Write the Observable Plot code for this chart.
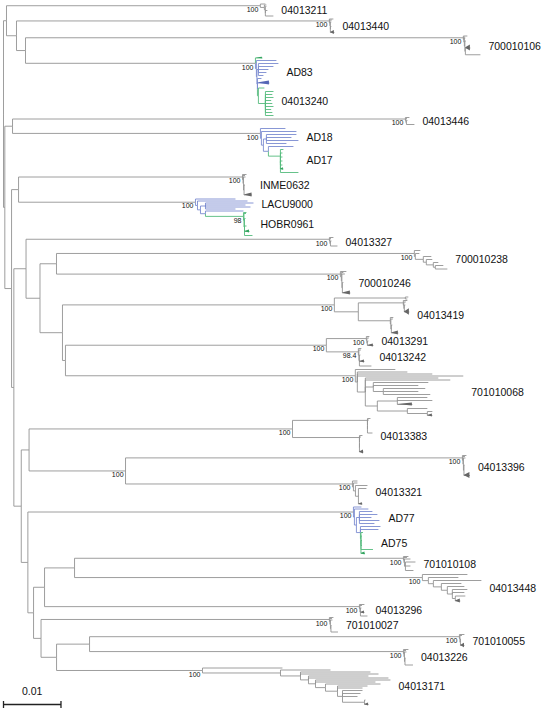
<!DOCTYPE html>
<html><head><meta charset="utf-8">
<script src="https://cdn.jsdelivr.net/npm/d3@7"></script>
<script src="https://cdn.jsdelivr.net/npm/@observablehq/plot@0.6"></script>
<style>body{margin:0;background:#fff}#chart svg{display:block}</style>
</head><body><div id="chart"></div>
<script>
// ---- DATA ----
// backbone edges: [node, parent, branch length (subs/site)]
const backbone = [
["R",null,0],
["N1","R",0.00052],["C1","N1",0.04417],["N2","N1",0.00174],["C2","N2",0.05443],
["N3","N2",0.00157],["C3","N3",0.07617],["C4","N3",0.04],
["Nb","R",0.00023],["N4","Nb",0.00134],["C5","N4",0.06835],["C6","N4",0.04313],
["Nd","Nb",0.00117],["N5","Nd",0.00122],["C7","N5",0.03896],["C8","N5",0.03078],
["Nf","Nd",0.0004],["N6","Nf",0.00212],["C9","N6",0.05278],["N7","N6",0.00243],
["N8","N7",0.00287],["C10","N8",0.06226],["C11","N8",0.04939],
["N9","N7",0.00391],["C12","N9",0.0473],["N10","N9",0.00052],["C13","N10",0.04539],["C14","N10",0.05043],
["NC","Nf",0.00129],["ND","NC",0.00136],["C15","ND",0.04583],["N11","ND",0.01678],
["C16","N11",0.05861],["C17","N11",0.03948],
["NE","NC",0.00115],["C18","NE",0.05664],["NF","NE",0.00099],["NG","NF",0.00191],
["NI","NG",0.00522],["C19","NI",0.05722],["C20","NI",0.06052],["C21","NG",0.05478],
["NH","NF",0.0013],["C22","NH",0.05017],["NJ","NH",0.0027],["NK","NJ",0.00574],
["C23","NK",0.06435],["C24","NK",0.05461],["C25","NJ",0.02539]
];
// clade edges: [node, parent, branch length, sequences (rows) for tips]
const cladeNodes = [
["1a","C1",0.00087,1],["1k1","C1",0.0007],["1b","1k1",0.00035,1],["1k2","1k1",0.00017],["1c","1k2",0.00017,2],["1k3","1k2",0],["1d","1k3",0.00035,6],["1e","1k3",0.00139,5],
["2a","C2",0.0007,1],["2k1","C2",0.00009],["2b","2k1",0.00035,1],["2k2","2k1",0.00009],["2c","2k2",0.00017,3],["2k3","2k2",0],["2d","2k3",0.00017,6],["2e","2k3",0.0007,6],
["3a","C3",0.0007,1],["3k1","C3",0.00009],["3b","3k1",0.00017,1],["3k2","3k1",0.00009],["3c","3k2",0.00017,1],["3k3","3k2",0.00009],["3d","3k3",0.00017,5],["3k4","3k3",0.00009],["3e","3k4",0.00087,9],["3f","3k4",0.00261,4.5],
["4gt","C4",0.00122,2],["4L1","C4",0.00017],["4b1","4L1",0.00348,3],["4L4","4L1",0.00009],["4F","4L4",0.00026],
["4f1","4F",0.00348,3],["4f2","4F",0.00261,3],["4f3","4F",0.00174,3],["4f4","4F",0.00139,3],["4f5","4F",0.00087,3],
["4L5","4L4",0.00009],["4b6","4L5",0.0007,3],["4L6","4L5",0],["4bb","4L6",0.00209,6],["4G","4L6",0.00017],["4gb","4G",0.00104,4],["4G2","4G",0.00122],
["4g1","4G2",0.0014,3],["4g2","4G2",0.0012,3],["4g3","4G2",0.0014,3],["4g4","4G2",0.001,3],["4g5","4G2",0.0012,3],["4g6","4G2",0.0014,3],["4g7","4G2",0.001,3],["4g8","4G2",0.0012,3],["4g9","4G2",0.0014,3],
["5a","C5",0.0007,1],["5k1","C5",0.00009],["5b","5k1",0.00017,1],["5k2","5k1",0.00009],["5c","5k2",0.00017,3],["5d","5k2",0.00139,5],
["6b1","C6",0.00435,3],["6K1","C6",0.00017],["6b2","6K1",0.00609,3],["6K2","6K1",0.00035],["6F","6K2",0.00052],
["6f1","6F",0.00522,3],["6f2","6F",0.00435,3],["6f3","6F",0.00557,3],["6f4","6F",0.00348,3],
["6K3","6K2",0.00087],["6f5","6K3",0.00435,3],["6G","6K3",0.00209],["6g1","6G",0.00052,3],["6G2","6G",0],
["6g2","6G2",0.00035,4],["6g3","6G2",0.00035,4],["6g4","6G2",0.00035,4],["6g5","6G2",0.00035,4],["6gb","6G2",0.00052,4],["6g6","6G2",0.00313,3],
["7a","C7",0.0007,1],["7k1","C7",0.00009],["7b","7k1",0.00035,1],["7k2","7k1",0.00009],["7c","7k2",0.00035,2],["7k3","7k2",0.00009],["7d","7k3",0.00017,14],["7e","7k3",0.00139,6],
["8b1","C8",0.00696,2],["8K1","C8",0.00035],["8b2","8K1",0.0087,2],["8K2","8K1",0.00052],["8F","8K2",0.00087],
["8f1","8F",0.00835,2],["8f2","8F",0.00696,2],["8f3","8F",0.00783,2],["8f4","8F",0.00522,2],
["8K3","8K2",0.00087],["8f5","8K3",0.00661,2],["8G","8K3",0.00661],["8g1","8G",0.00052,1],["8G2","8G",0.00009],["8g2","8G2",0.00035,1],["8G3","8G2",0.00009],
["8g3","8G3",0.00017,9],["8g4","8G3",0.00035,6],["8gb","8G3",0.00087,5],["8g5","8G3",0.00139,3],
["9a","C9",0.0007,1],["9k1","C9",0.00009],["9b","9k1",0.00017,1],["9k2","9k1",0.00009],["9c","9k2",0.00017,4],["9d","9k2",0.00122,6],
["10a","C10",0.00104,3],["10k2","C10",0.00017],["10b","10k2",0.0007,3],["10S1","10k2",0.00139],["10s1","10S1",0.00139,3],["10S2","10S1",0.00052],["10s2","10S2",0.00104,3],
["10S3","10S2",0.00122],["10s3","10S3",0.00087,3],["10S4","10S3",0.00035],["10s4","10S4",0.00139,3],["10s5","10S4",0.00209,4],
["11a","C11",0.00104,1],["11k1","C11",0.00017],["11b","11k1",0.00035,1],["11k2","11k1",0.00009],["11c","11k2",0.00052,2],["11k3","11k2",0.00009],["11d","11k3",0.00017,15],["11e","11k3",0.00139,6],
["12A","C12",0.01235],["12a1","12A",0.00052,2],["12a2","12A",0.00035,2],["12B","C12",0.00417],["12C","12B",0.00783],
["12c1","12C",0.0007,1],["12C2","12C",0.00009],["12c2","12C2",0.00035,2],["12C3","12C2",0.00009],["12c3","12C3",0.00017,4],["12cb","12C3",0.00087,10],
["12D","12B",0.00557],["12d1","12D",0.00052,1],["12D2","12D",0.00009],["12d2","12D2",0.00035,2],["12D3","12D2",0.00009],["12d3","12D3",0.00017,10],["12db","12D3",0.00122,6],
["13P","C13",0.00696],["13p1","13P",0.00052,1],["13P2","13P",0.00009],["13p2","13P2",0.00035,2],["13P3","13P2",0.00009],["13p3","13P3",0.00017,4],["13pb","13P3",0.00104,5],
["13Q","C13",0.00557],["13q1","13Q",0.00052,1],["13Q2","13Q",0.00009],["13q2","13Q2",0.00035,2],["13Q3","13Q2",0.00009],["13q3","13Q3",0.00017,8],["13qb","13Q3",0.00087,5],["13q4","13Q3",0.00209,4],
["14h1","C14",0.00696,3],["14H","C14",0.00035],["14h2","14H",0.0087,2],["14h3","14H",0.01304,2],["14h4","14H",0.01843,2],["14K","14H",0.00139],
["14h5","14K",0.0127,2],["14h6","14K",0.01478,2],["14K2","14K",0.00139],["14h7","14K2",0.00957,3],["14h8","14K2",0.00783,3],
["14K4","14K2",0.00174],["14h9","14K4",0.0073,3],["14h10","14K4",0.00609,3],["14h11","14K4",0.00817,3],
["14K3","14K",0.00209],["14K5","14K3",0.00348],["14h12","14K5",0.00522,3],["14h13","14K5",0.00609,3],["14hb","14K5",0.00261,5],
["14K6","14K3",0.00522],["14h14","14K6",0.00348,3],["14K7","14K6",0.00348],["14h15","14K7",0.00087,3],["14hb2","14K7",0.00087,5],
["15A","C15",0.01304],["15a1","15A",0.00052,1],["15A2","15A",0],["15a2","15A2",0.00017,1],["15A3","15A2",0],["15a3","15A3",0.00017,1],["15A4","15A3",0],["15a4","15A4",0.00009,10],["15a5","15A4",0.00087,4],
["15B","C15",0.01165],["15b1","15B",0.00052,1],["15B2","15B",0],["15b2","15B2",0.00017,1],["15B3","15B2",0],["15b3","15B3",0.00017,1],["15B4","15B3",0],["15b4","15B4",0.00009,11],["15bb","15B4",0.0007,6],
["16a","C16",0.0007,1],["16k1","C16",0.00009],["16b","16k1",0.00035,1],["16k2","16k1",0.00009],["16c","16k2",0.00035,2],["16k3","16k2",0.00009],["16d","16k3",0.00009,12],["16e","16k3",0.00104,9],
["17a","C17",0.00087,2],["17K1","C17",0.00017],["17b","17K1",0.0007,2],["17K2","17K1",0.00035],["17c","17K2",0.00209,3],["17K3","17K2",0.00052],["17d","17K3",0.00139,3],["17e","17K3",0.00009,12],["17f","17K3",0.0007,4],
["18b1","C18",0.00139,2],["18K1","C18",0.00017],["18b2","18K1",0.00243,2],["18K2","18K1",0.00035],["18F","18K2",0.00052],
["18f1","18F",0.00226,3],["18f2","18F",0.00313,3],["18f3","18F",0.00209,3],["18f4","18F",0.00348,3],["18f5","18F",0.00261,3],
["18K3","18K2",0.0007],["18f6","18K3",0.00348,3],["18f7","18K3",0.00313,3],["18G","18K3",0.00009],["18g1","18G",0.00035,3],["18G2","18G",0],
["18g2","18G2",0.00017,4],["18g3","18G2",0.00017,5],["18g4","18G2",0.00017,5],["18g5","18G2",0.00209,3],["18gb","18G2",0.0007,5],
["19a","C19",0.00087,1],["19k1","C19",0.00009],["19b","19k1",0.00052,1],["19k2","19k1",0.00009],["19c","19k2",0.00104,2],["19k3","19k2",0.00017],["19d","19k3",0.00174,4],["19e","19k3",0.00087,4],["19f","19k3",0.00139,5],
["20a","C20",0.00783,3],["20K1","C20",0.00104],["20b","20K1",0.00522,3],["20K2","20K1",0.00087],["20c","20K2",0.00835,3],["20K3","20K2",0.00139],["20d","20K3",0.00348,3],
["20K4","20K3",0.00104],["20e","20K4",0.00296,3],["20K5","20K4",0.00087],["20f","20K5",0.00261,3],["20g","20K5",0.00209,3],["20K6","20K5",0.00052],["20h","20K6",0.00174,4],["20i","20K6",0.00087,6],
["21a","C21",0.00087,1],["21k1","C21",0.00009],["21b","21k1",0.00035,1],["21k2","21k1",0.00009],["21c","21k2",0.00017,4],["21d","21k2",0.0007,5],["21e","21k2",0.00122,2],
["22a","C22",0.0007,1],["22k1","C22",0.00009],["22b","22k1",0.00035,1],["22k2","22k1",0.00009],["22c","22k2",0.00035,2],["22k3","22k2",0.00009],["22d","22k3",0.00009,9],["22e","22k3",0.00122,4],
["23a","C23",0.00087,1],["23k1","C23",0.00009],["23b","23k1",0.00035,1],["23k2","23k1",0.00009],["23c","23k2",0.00009,6],["23d","23k2",0.0007,7],
["24a","C24",0.00087,1],["24k1","C24",0.00009],["24b","24k1",0.00035,1],["24k2","24k1",0.00009],["24c","24k2",0.00035,2],["24k3","24k2",0.00009],["24d","24k3",0.00009,10],["24e","24k3",0.00139,4],
["25a","C25",0.01391,2],["25K1","C25",0.01357],["25b","25K1",0.0087,2],["25K2","25K1",0.00348],["25c","25K2",0.01217,2],["25d","25K2",0.01357,2],
["25K3","25K2",0.00139],["25e","25K3",0.01043,2],["25f","25K3",0.01391,2],["25K4","25K3",0.00122],["25g","25K4",0.01304,2],["25h","25K4",0.01043,2],
["25K5","25K4",0.00174],["25i","25K5",0.00957,2],["25K6","25K5",0.00209],["25j","25K6",0.00522,2],["25k","25K6",0.00435,2],
["25K7","25K6",0.00087],["25l","25K7",0.00348,3],["25m","25K7",0.00313,3],["25n","25K7",0.00261,3],["25K8","25K7",0.00383],["25o","25K8",0.00017,4],["25p","25K8",0.0007,5]
];
const collapsedTips = ["2e","3e","4gt","4bb","6gb","7e","8gb","11e","12cb","12db","13pb","13qb","14hb","14hb2","15bb","16e","17f","18gb","20i","21d","23d","25p"];
const lineages = [["4gt","green"],["4L1","blue"],["4G","green"],["6b1","blue"],["6K1","blue"],["6G","green"],
  ["8b1","blue"],["8K1","blue"],["8G","green"],["18b1","blue"],["18K1","blue"],["18G","green"]];
const supports = [["C1",100],["C2",100],["C3",100],["C4",100],["C5",100],["C6",100],["C7",100],["C8",100],["8G",98],
  ["C9",100],["C10",100],["C11",100],["C12",100],["C13",100],["13P",100],["13Q",98.4],["C14",100],["C15",100],["N11",100],
  ["C16",100],["C17",100],["C18",100],["C19",100],["C20",100],["C21",100],["C22",100],["C23",100],["C24",100],["C25",100]];
const cladeLabels = [["04013211","1a","1e"],["04013440","2a","2e"],["700010106","3a","3f"],["AD83","4b1","4bb"],["04013240","4gb","4g9"],
  ["04013446","5a","5d"],["AD18","6b1","6f5"],["AD17","6g1","6g6"],["INME0632","7a","7e"],["LACU9000","8b1","8f5"],["HOBR0961","8g1","8g5"],
  ["04013327","9a","9d"],["700010238","10a","10s5"],["700010246","11a","11e"],["04013419","12a1","12db"],["04013291","13p1","13pb"],
  ["04013242","13q1","13q4"],["701010068","14h1","14hb2"],["04013383","15a1","15bb"],["04013396","16a","16e"],["04013321","17a","17f"],
  ["AD77","18b1","18f7"],["AD75","18g1","18gb"],["701010108","19a","19f"],["04013448","20a","20i"],["04013296","21a","21e"],
  ["701010027","22a","22e"],["701010055","23a","23d"],["04013226","24a","24e"],["04013171","25a","25p"]];
const scaleBarLength = 0.01;

// ---- LAYOUT ----
const byId = new Map();
for (const [id, parent, length, n] of [...backbone, ...cladeNodes]) byId.set(id, {id, parent, length, n: n || 0, children: []});
for (const nd of byId.values()) if (nd.parent) byId.get(nd.parent).children.push(nd);
const linMap = new Map(lineages);
let rowCount = 0; const tips = [];
(function layout(nd, d, lin) {
  nd.dist = d; nd.lineage = linMap.get(nd.id) || lin;
  if (!nd.children.length) { nd.top = rowCount; rowCount += nd.n; nd.bottom = rowCount; nd.y = (nd.top + nd.bottom) / 2; nd.idx = tips.length; tips.push(nd); }
  else { nd.children.forEach(c => layout(c, d + c.length, nd.lineage)); nd.y = (nd.children[0].y + nd.children[nd.children.length - 1].y) / 2; }
})(byId.get("R"), 0, "other");

const all = [...byId.values()];
const nonRoot = all.filter(n => n.parent);
const hEdges = nonRoot.map(n => ({x1: byId.get(n.parent).dist, x2: n.dist, y: n.y, lineage: n.lineage}));
const vEdges = nonRoot.map(n => ({x: byId.get(n.parent).dist, y1: byId.get(n.parent).y, y2: n.y, lineage: n.lineage}));
const wedges = collapsedTips.flatMap(id => { const t = byId.get(id), p = byId.get(t.parent); const h = (t.bottom - t.top) * 0.32;
  return [{id, x: p.dist, y1: t.y, y2: t.y, lineage: t.lineage}, {id, x: t.dist, y1: t.y - h, y2: t.y + h, lineage: t.lineage}]; });
const supportData = supports.map(([id, v]) => ({x: byId.get(id).dist, y: byId.get(id).y, v}));
const labelData = cladeLabels.map(([text, a, b]) => { const i = byId.get(a).idx, j = byId.get(b).idx; const sub = tips.slice(i, j + 1);
  return {text, x: d3.max(sub, t => t.dist), y: (sub[0].top + sub[sub.length - 1].bottom) / 2}; });
const barRow = rowCount - 2.5;

const lineColor = {other: "#939393", blue: "#7b8bd0", green: "#55bb7d"};
const blobColor = {other: "#666666", blue: "#5566b5", green: "#34a35f"};

const chart = Plot.plot({
  width: 541, height: 714, margin: 0,
  style: {fontFamily: "'Liberation Sans', Arial, sans-serif", background: "#fff", overflow: "visible"},
  x: {domain: [0, 0.0936], range: [3, 541], axis: null},
  y: {domain: [0, rowCount], range: [3, 3 + rowCount], axis: null},
  marks: [
    Plot.link(vEdges, {x1: "x", x2: "x", y1: "y1", y2: "y2", stroke: d => lineColor[d.lineage], strokeWidth: 0.9}),
    Plot.link(hEdges, {x1: "x1", x2: "x2", y1: "y", y2: "y", stroke: d => lineColor[d.lineage], strokeWidth: 0.9}),
    Plot.areaY(wedges, {x: "x", y1: "y1", y2: "y2", z: "id", fill: d => blobColor[d.lineage]}),
    Plot.text(supportData, {x: "x", y: "y", text: d => String(d.v), textAnchor: "end", dx: -2, dy: 4, fontSize: 7, fill: "#111"}),
    Plot.text(labelData, {x: "x", y: "y", text: "text", textAnchor: "start", dx: 8, fontSize: 10.5, fill: "#111"}),
    Plot.link([scaleBarLength], {x1: () => 0, x2: d => d, y1: () => barRow, y2: () => barRow, stroke: "#222", strokeWidth: 1.3}),
    Plot.link([0, scaleBarLength], {x1: d => d, x2: d => d, y1: () => barRow - 3.5, y2: () => barRow + 3.5, stroke: "#222", strokeWidth: 1.3}),
    Plot.text([scaleBarLength], {x: d => d / 2, y: () => barRow, dy: -13, text: d => String(d), fontSize: 10.5, fill: "#111"})
  ]
});
document.getElementById("chart").append(chart);
</script>
</body></html>
